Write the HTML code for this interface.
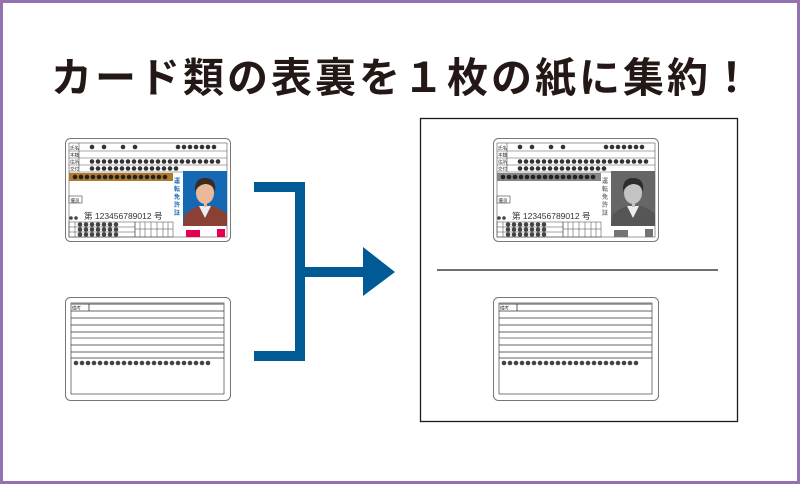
<!DOCTYPE html>
<html><head><meta charset="utf-8"><style>
html,body{margin:0;padding:0;background:#fff}
#w{position:relative;width:800px;height:484px;box-sizing:border-box;border:3px solid #9472b2;overflow:hidden;background:#fff}
#t{position:absolute;left:0;top:50px;width:800px;text-align:center;font:bold 41px "Liberation Sans","Noto Sans CJK JP",sans-serif;color:#231815;letter-spacing:3px;line-height:50px}
svg{position:absolute;left:-3px;top:-3px}
</style></head><body><div id="w">
<div id="t">カード類の表裏を１枚の紙に集約！</div>
<svg width="800" height="484" viewBox="0 0 800 484" font-family="Liberation Sans,Noto Sans CJK JP,sans-serif">
<defs>
<filter id="g"><feColorMatrix type="saturate" values="0"/></filter>
<g id="dots14"><circle cx="0" cy="0" r="2.3"/><circle cx="6" cy="0" r="2.3"/><circle cx="12" cy="0" r="2.3"/><circle cx="18" cy="0" r="2.3"/><circle cx="24" cy="0" r="2.3"/><circle cx="30" cy="0" r="2.3"/><circle cx="36" cy="0" r="2.3"/></g>
<g id="front">
<rect x="0.5" y="0.5" width="165" height="103" rx="5" fill="#fff" stroke="#777" stroke-width="1"/>
<rect x="4" y="5" width="158" height="94" fill="none" stroke="#555" stroke-width="0.6"/>
<g stroke="#555" stroke-width="0.6"><line x1="4" y1="13" x2="162" y2="13"/><line x1="4" y1="20" x2="162" y2="20"/><line x1="4" y1="27" x2="162" y2="27"/><line x1="4" y1="34" x2="162" y2="34"/><line x1="14" y1="5" x2="14" y2="34"/></g>
<g fill="#333"><circle cx="27" cy="9" r="2.3"/><circle cx="39" cy="9" r="2.3"/><circle cx="58" cy="9" r="2.3"/><circle cx="70" cy="9" r="2.3"/>
<use href="#dots14" x="113" y="9"/><use href="#dots14" x="27" y="23.5"/><use href="#dots14" x="69" y="23.5"/><use href="#dots14" x="111" y="23.5"/><circle cx="153" cy="23.5" r="2.3"/>
<use href="#dots14" x="27" y="30.5"/><use href="#dots14" x="69" y="30.5"/><circle cx="111" cy="30.5" r="2.3"/></g>
<rect x="4" y="35" width="104" height="8" fill="#b07a2a"/>
<g fill="#222"><use href="#dots14" x="10" y="39"/><use href="#dots14" x="52" y="39"/><circle cx="94" cy="39" r="2.3"/><circle cx="100" cy="39" r="2.3"/></g>
<rect x="118" y="33" width="44" height="55" fill="#1568b3"/>
<path d="M118 88 L120 76 Q128 70 134 68 L148 68 Q156 71 162 76 L162 88 Z" fill="#8a4034"/>
<path d="M134 68 L140 80 L146 68 Z" fill="#e8eef4"/>
<ellipse cx="140" cy="55" rx="9" ry="11" fill="#e9b99a"/>
<path d="M130 54 Q129 40 140 40 Q152 40 150 54 Q148 46 140 46 Q133 47 130 54Z" fill="#3a2a22"/>
<rect x="139" y="64" width="3" height="5" fill="#e9b99a"/>
<g fill="#e5004f"><rect x="121" y="92" width="14" height="7"/></g>
<rect x="152" y="91" width="8" height="8" fill="#e5004f"/>
<rect x="4" y="58" width="13" height="7" fill="#fff" stroke="#444" stroke-width="0.6"/>
<g stroke="#444" stroke-width="0.5" fill="none"><rect x="4" y="84" width="66" height="15"/><line x1="4" y1="89" x2="70" y2="89"/><line x1="4" y1="94" x2="70" y2="94"/><line x1="10" y1="84" x2="10" y2="99"/>
<rect x="70" y="84" width="38" height="15"/><line x1="70" y1="91" x2="108" y2="91"/><line x1="75" y1="84" x2="75" y2="99"/><line x1="80" y1="84" x2="80" y2="99"/><line x1="86" y1="84" x2="86" y2="99"/><line x1="92" y1="84" x2="92" y2="99"/><line x1="98" y1="84" x2="98" y2="99"/><line x1="103" y1="84" x2="103" y2="99"/></g>
<g fill="#444"><use href="#dots14" x="15" y="86.5"/><use href="#dots14" x="15" y="91.5"/><use href="#dots14" x="15" y="96.5"/><circle cx="6" cy="80" r="1.8"/><circle cx="11" cy="80" r="1.8"/></g>
</g>
<g id="back">
<rect x="0.5" y="0.5" width="165" height="103" rx="5" fill="#fff" stroke="#777" stroke-width="1"/>
<rect x="6" y="6" width="153" height="91" fill="none" stroke="#444" stroke-width="0.7"/>
<g stroke="#333" stroke-width="0.8"><line x1="6" y1="7" x2="159" y2="7" stroke="#888" stroke-width="1.5"/><line x1="6" y1="14" x2="159" y2="14"/><line x1="6" y1="21" x2="159" y2="21"/><line x1="6" y1="28" x2="159" y2="28"/><line x1="6" y1="35" x2="159" y2="35"/><line x1="6" y1="41" x2="159" y2="41" stroke="#999" stroke-width="1.2"/><line x1="6" y1="48" x2="159" y2="48"/><line x1="6" y1="55" x2="159" y2="55"/><line x1="6" y1="61" x2="159" y2="61"/><line x1="24" y1="7" x2="24" y2="14"/></g>
<g fill="#444"><use href="#dots14" x="11" y="66"/><use href="#dots14" x="53" y="66"/><use href="#dots14" x="95" y="66"/><circle cx="137" cy="66" r="2.3"/><circle cx="143" cy="66" r="2.3"/></g>
</g>
</defs>

<use href="#front" x="65" y="138"/>
<g font-size="4.5" fill="#333"><text x="70" y="149.5">氏名</text><text x="70" y="156.5">本籍</text><text x="70" y="163.5">住所</text><text x="70" y="170.5">交付</text><text x="70.5" y="202">優良</text>
<text x="84" y="219" font-size="8.5">第 123456789012 号</text></g>
<g font-size="6" fill="#1568b3" font-weight="bold"><text x="174" y="183">運</text><text x="174" y="191">転</text><text x="174" y="199">免</text><text x="174" y="207">許</text><text x="174" y="215">証</text></g>
<use href="#back" x="65" y="297"/>
<text x="72" y="309.5" font-size="4.5" fill="#333">備考</text>

<g filter="url(#g)"><use href="#front" x="493" y="138"/></g>
<g font-size="4.5" fill="#333"><text x="498" y="149.5">氏名</text><text x="498" y="156.5">本籍</text><text x="498" y="163.5">住所</text><text x="498" y="170.5">交付</text><text x="498.5" y="202">優良</text>
<text x="512" y="219" font-size="8.5">第 123456789012 号</text></g>
<g font-size="6" fill="#777" font-weight="bold"><text x="602" y="183">運</text><text x="602" y="191">転</text><text x="602" y="199">免</text><text x="602" y="207">許</text><text x="602" y="215">証</text></g>
<use href="#back" x="493" y="297"/>
<text x="500" y="309.5" font-size="4.5" fill="#333">備考</text>

<rect x="420.5" y="118.5" width="317" height="303" fill="none" stroke="#231815" stroke-width="1.3"/>
<line x1="437" y1="270" x2="718" y2="270" stroke="#231815" stroke-width="1.3"/>

<g fill="#005a96"><rect x="254" y="182" width="51" height="10"/><rect x="295" y="182" width="10" height="179"/><rect x="254" y="351" width="51" height="10"/><rect x="305" y="267" width="58" height="10"/><polygon points="363,247 395,272 363,296"/></g>
</svg>
</div></body></html>
